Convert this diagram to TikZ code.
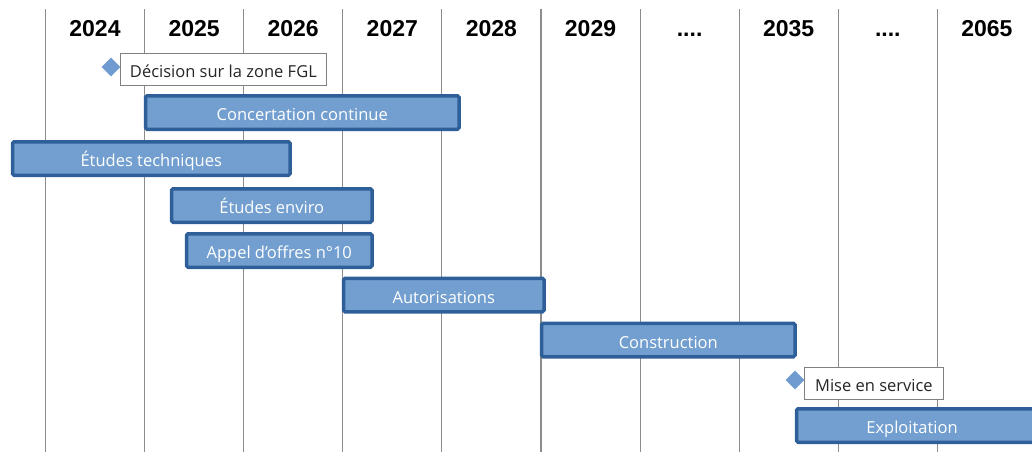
\documentclass[tikz,border=0pt]{standalone}
\usepackage{fontspec}
\setmainfont{Open Sans}
\newfontfamily\yearfont{Liberation Sans}
\usepackage{xcolor}
\usetikzlibrary{shapes.geometric,positioning}

\definecolor{barfill}{HTML}{729FCF}
\definecolor{barline}{HTML}{2E5F99}
\definecolor{jalon}{HTML}{6F9BD1}
\definecolor{gridgray}{HTML}{8C8C8C}

\newcommand{\pointilles}{....}

\tikzset{
    bar/.style={draw=barline, fill=barfill, line width=3.5pt, rounded corners=1.5pt,
        minimum height=33.5pt, anchor=west, inner sep=0pt, text=white,
        text height=16pt, text depth=0pt, font=\fontsize{16.5}{18}\selectfont},
    jalonbox/.style={draw=gray, fill=white, line width=0.8pt, minimum height=32pt,
        anchor=west, inner sep=0pt, text=black!85,
        text height=16pt, text depth=0pt, font=\fontsize{16.5}{18}\selectfont},
    jalonpt/.style={diamond, fill=jalon, minimum size=19pt, inner sep=0pt},
    year/.style={font=\yearfont\bfseries\fontsize{23}{25}\selectfont, anchor=base}
}

\begin{document}
\begin{tikzpicture}[x=1pt,y=-1pt]
            \useasboundingbox (0,0) rectangle (1032,452);
            \def\colw{99.1}
            \def\xzero{45.5}

            % grid and years
            \foreach \lab [count=\i from 0] in {2024,2025,2026,2027,2028,2029,\pointilles,2035,\pointilles,2065} {
                \draw[gridgray, line width=1.1pt] (\xzero+\i*\colw,9) -- (\xzero+\i*\colw,452);
                \node[year] (y\i) at (\xzero+\i*\colw+49.5,37) {\lab};
            }

            % milestones
            \node[jalonbox, minimum width=206pt] (decbox) at (120,69) {D\'ecision sur la zone FGL};
            \node[jalonpt] (decpt) at (111,67) {};
            \node[jalonbox, minimum width=139pt] (misebox) at (804,383) {Mise en service};
            \node[jalonpt] (misept) at (795,380) {};

            % bars
            \node[bar, minimum width=313.5pt] (concert) at (143.75,112.5) {Concertation continue};
            \node[bar, minimum width=277.5pt] (etutech) at (10.75,158.5) {\'Etudes techniques};
            \node[bar, minimum width=200.5pt] (etuenv) at (169.75,205.5) {\'Etudes enviro};
            \node[bar, minimum width=185.5pt] (appel) at (184.75,250.5) {Appel d’offres n°10};
            \node[bar, minimum width=200.5pt] (autor) at (341.75,295) {Autorisations};
            \node[bar, minimum width=253.5pt] (constr) at (539.75,340) {Construction};
            \node[bar, minimum width=260pt] (exploit) at (794.75,425.5) {};
            \node[text=white, text height=16pt, text depth=0pt, font=\fontsize{16.5}{18}\selectfont] (exploitlab) at (912,425.5) {Exploitation};
        \end{tikzpicture}
\end{document}
